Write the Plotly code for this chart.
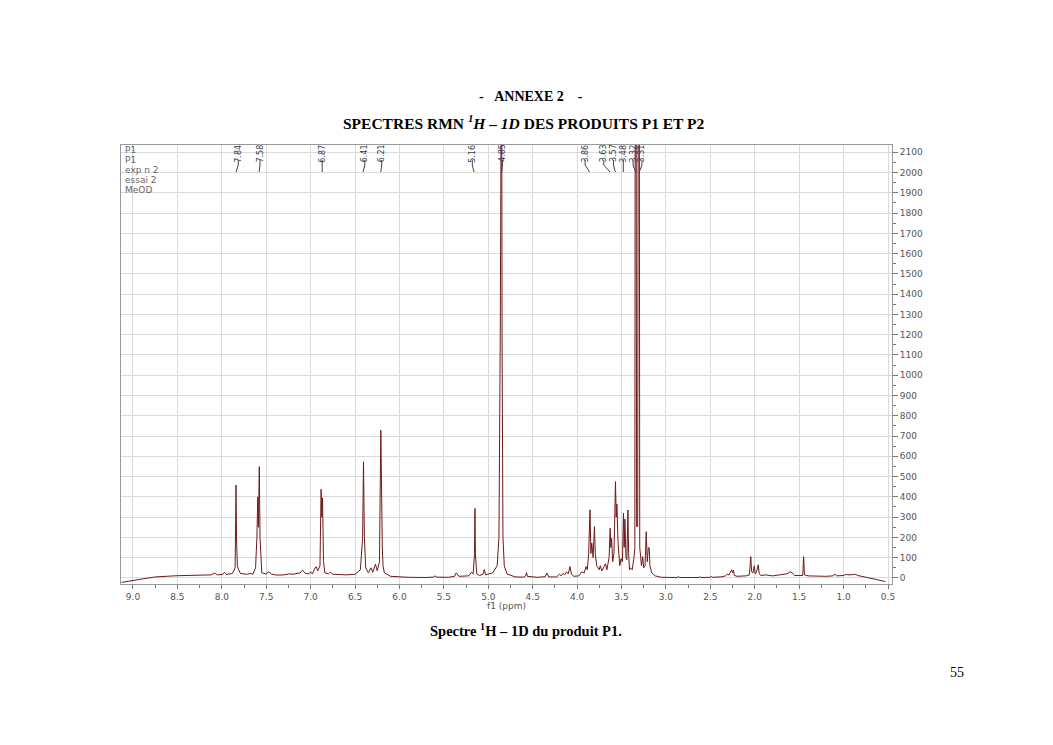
import plotly.graph_objects as go

# spectre RMN 1H du produit P1 : points (ppm, intensite)
ppm = [9.13, 9.0, 8.9, 8.75, 8.5, 8.3, 8.12, 8.08, 8.05, 7.99, 7.97, 7.95, 7.88,
       7.85, 7.845, 7.84, 7.835, 7.825, 7.81, 7.79, 7.72, 7.67, 7.65, 7.62, 7.605,
       7.595, 7.588, 7.578, 7.57, 7.56, 7.55, 7.50, 7.47, 7.44, 7.38, 7.30, 7.24,
       7.20, 7.12, 7.09, 7.06, 7.02, 7.00, 6.98, 6.95, 6.935, 6.92, 6.895, 6.882,
       6.875, 6.866, 6.855, 6.84, 6.80, 6.78, 6.75, 6.60, 6.50, 6.44, 6.415, 6.405,
       6.395, 6.38, 6.35, 6.32, 6.30, 6.27, 6.25, 6.225, 6.21, 6.20, 6.193, 6.185,
       6.17, 6.10, 6.0, 5.9, 5.7, 5.62, 5.60, 5.58, 5.45, 5.38, 5.36, 5.33, 5.22,
       5.19, 5.17, 5.155, 5.15, 5.145, 5.13, 5.10, 5.06, 5.045, 5.03, 5.00, 4.95,
       4.90, 4.88, 4.865, 4.855, 4.85, 4.845, 4.835, 4.82, 4.79, 4.70, 4.60, 4.58,
       4.57, 4.56, 4.45, 4.36, 4.34, 4.32, 4.23, 4.20, 4.18, 4.16, 4.14, 4.12,
       4.10, 4.08, 4.065, 4.04, 3.98, 3.95, 3.92, 3.90, 3.885, 3.87, 3.855, 3.845,
       3.835, 3.82, 3.805, 3.795, 3.78, 3.75, 3.74, 3.72, 3.70, 3.68, 3.665, 3.64,
       3.628, 3.62, 3.612, 3.60, 3.585, 3.568, 3.56, 3.552, 3.54, 3.52, 3.505,
       3.49, 3.478, 3.47, 3.462, 3.45, 3.44, 3.428, 3.42, 3.41, 3.40, 3.38, 3.36,
       3.35, 3.342, 3.33, 3.318, 3.305, 3.295, 3.285, 3.275, 3.262, 3.25, 3.235,
       3.222, 3.21, 3.198, 3.188, 3.18, 3.16, 3.12, 3.05, 2.95, 2.87, 2.86, 2.85,
       2.70, 2.63, 2.62, 2.61, 2.50, 2.49, 2.48, 2.38, 2.33, 2.31, 2.29, 2.27,
       2.26, 2.25, 2.24, 2.23, 2.20, 2.10, 2.06, 2.045, 2.035, 2.02, 2.005, 1.995,
       1.98, 1.96, 1.95, 1.93, 1.88, 1.80, 1.75, 1.70, 1.64, 1.60, 1.58, 1.55,
       1.50, 1.46, 1.45, 1.44, 1.40, 1.30, 1.20, 1.12, 1.10, 1.08, 1.00, 0.97,
       0.95, 0.90, 0.87, 0.84, 0.75, 0.65, 0.53]
intensite = [-22, -14, -5, 5, 11, 13, 15, 24, 15, 17, 28, 17, 22,
             50, 200, 458, 200, 60, 40, 22, 18, 22, 18, 50, 200,
             400, 250, 549, 200, 80, 25, 20, 30, 18, 14, 15, 20,
             18, 25, 38, 22, 20, 30, 20, 50, 55, 35, 60, 437,
             300, 395, 80, 25, 20, 28, 18, 15, 18, 40, 200, 573,
             200, 50, 25, 50, 28, 68, 35, 80, 729, 150, 148, 60,
             25, 8, 5, 3, 2, 4, 10, 4, 3, 8, 25, 8, 10,
             28, 20, 120, 343, 120, 20, 12, 18, 42, 15, 18, 25,
             60, 200, 1200, 3000, 3000, 1200, 200, 60, 20, 5, 4, 10,
             26, 8, 3, 6, 24, 5, 5, 18, 10, 22, 15, 30,
             20, 56, 20, 8, 10, 30, 25, 56, 40, 120, 336, 120,
             172, 100, 253, 120, 60, 40, 60, 35, 50, 70, 40, 100,
             245, 150, 195, 80, 120, 475, 300, 365, 180, 60, 95,
             80, 319, 150, 290, 100, 90, 335, 120, 40, 50, 40, 100,
             150, 5000, 253, 253, 5000, 150, 100, 60, 105, 50, 60,
             228, 80, 150, 148, 60, 25, 10, 3, 2, 2, 8, 2,
             2, 2, 7, 2, 3, 8, 3, 5, 10, 18, 15, 30,
             40, 25, 38, 12, 8, 10, 15, 105, 30, 25, 60, 20,
             30, 65, 20, 12, 15, 10, 12, 15, 20, 30, 25, 12,
             10, 12, 105, 15, 10, 8, 8, 10, 20, 10, 12, 18,
             15, 16, 18, 12, 2, -6, -18]

# etiquettes des pics (valeur, position de l'etiquette en ppm)
pic_labels = ["7.84", "7.58", "6.87", "6.41", "6.21", "5.16", "4.85",
              "3.86", "3.63", "3.57", "3.48", "3.32", "3.31"]
pic_ppm = [7.84, 7.58, 6.87, 6.41, 6.21, 5.16, 4.85,
           3.86, 3.63, 3.57, 3.48, 3.34, 3.30]
label_pos = [7.815, 7.57, 6.87, 6.39, 6.20, 5.18, 4.84,
             3.91, 3.70, 3.59, 3.48, 3.37, 3.27]

entete = ["P1", "P1", "exp n 2", "essai 2", "MeOD"]

# la page html decale la figure de 8 px (marge du body)
OFF = 8
W, H = 1053 - 2 * OFF, 745 - 2 * OFF
# zone de trace, en px de la page
L, R, T, B = 121, 892, 145, 584


def px(x):
    return (x - L) / (R - L)


def py(y):
    return (B - y) / (B - T)


fig = go.Figure()
fig.add_trace(go.Scatter(x=ppm, y=intensite, mode="lines",
                         line=dict(color="#6e1a1a", width=1), hoverinfo="skip"))

axe_font = dict(family="DejaVu Sans", size=9, color="#555")

fig.update_layout(
    width=W, height=H,
    margin=dict(l=L - OFF, r=W - (R - OFF), t=T - OFF, b=H - (B - OFF)),
    paper_bgcolor="white", plot_bgcolor="white",
    showlegend=False,
    xaxis=dict(
        range=[9.135, 0.455], tick0=0, dtick=0.5, tickformat=".1f",
        ticks="outside", ticklen=4, tickcolor="#777",
        showline=True, linecolor="#999", mirror=True,
        showgrid=True, gridcolor="#dadada", zeroline=False,
        tickfont=axe_font,
        minor=dict(dtick=0.25, ticks="outside", ticklen=3, tickcolor="#777", showgrid=False),
    ),
    yaxis=dict(
        range=[-30, 2136], side="right", tick0=0, dtick=100,
        ticks="outside", ticklen=5, tickcolor="#777",
        showline=True, linecolor="#999", mirror=True,
        showgrid=True, gridcolor="#dadada", zeroline=False,
        tickfont=axe_font,
        minor=dict(dtick=50, ticks="outside", ticklen=3, tickcolor="#777", showgrid=False),
    ),
)

serif = "Liberation Serif, Times New Roman, serif"
annots = [
    dict(text="<b>-&nbsp;&nbsp;&nbsp;ANNEXE 2&nbsp;&nbsp;&nbsp;&nbsp;-</b>", x=px(531), y=py(96),
         font=dict(family=serif, size=14, color="black")),
    dict(text="<b>SPECTRES RMN <sup><i>1</i></sup><i>H – 1D</i> DES PRODUITS P1 ET P2</b>",
         x=px(524), y=py(122), font=dict(family=serif, size=15.5, color="black")),
    dict(text="<b>Spectre <sup>1</sup>H – 1D du produit P1.</b>", x=px(526), y=py(630),
         font=dict(family=serif, size=14.5, color="black")),
    dict(text="55", x=px(957), y=py(672), font=dict(family=serif, size=14, color="black")),
    dict(text="f1 (ppm)", x=px(506), y=py(606), font=dict(family="DejaVu Sans", size=9, color="#555")),
]
for a in annots:
    fig.add_annotation(xref="paper", yref="paper", showarrow=False, xanchor="center", yanchor="middle", **a)

for i, t in enumerate(entete):
    fig.add_annotation(xref="paper", yref="paper", x=px(123), y=py(150 + 10 * i), text=t,
                       showarrow=False, xanchor="left", yanchor="middle",
                       font=dict(family="DejaVu Sans", size=9, color="#666"))

for lab, p, lp in zip(pic_labels, pic_ppm, label_pos):
    fig.add_annotation(xref="x", yref="paper", x=lp, y=py(153.5), text=lab, textangle=-90,
                       showarrow=False, xanchor="center", yanchor="middle",
                       font=dict(family="Liberation Sans Narrow, DejaVu Sans", size=8, color="#3b3b55"))
    fig.add_shape(type="line", xref="x", yref="paper", x0=lp, x1=lp, y0=py(160), y1=py(165),
                  line=dict(color="#444", width=1))
    fig.add_shape(type="line", xref="x", yref="paper", x0=lp, x1=p, y0=py(165), y1=py(172),
                  line=dict(color="#444", width=1))

fig.write_html("out.html")
